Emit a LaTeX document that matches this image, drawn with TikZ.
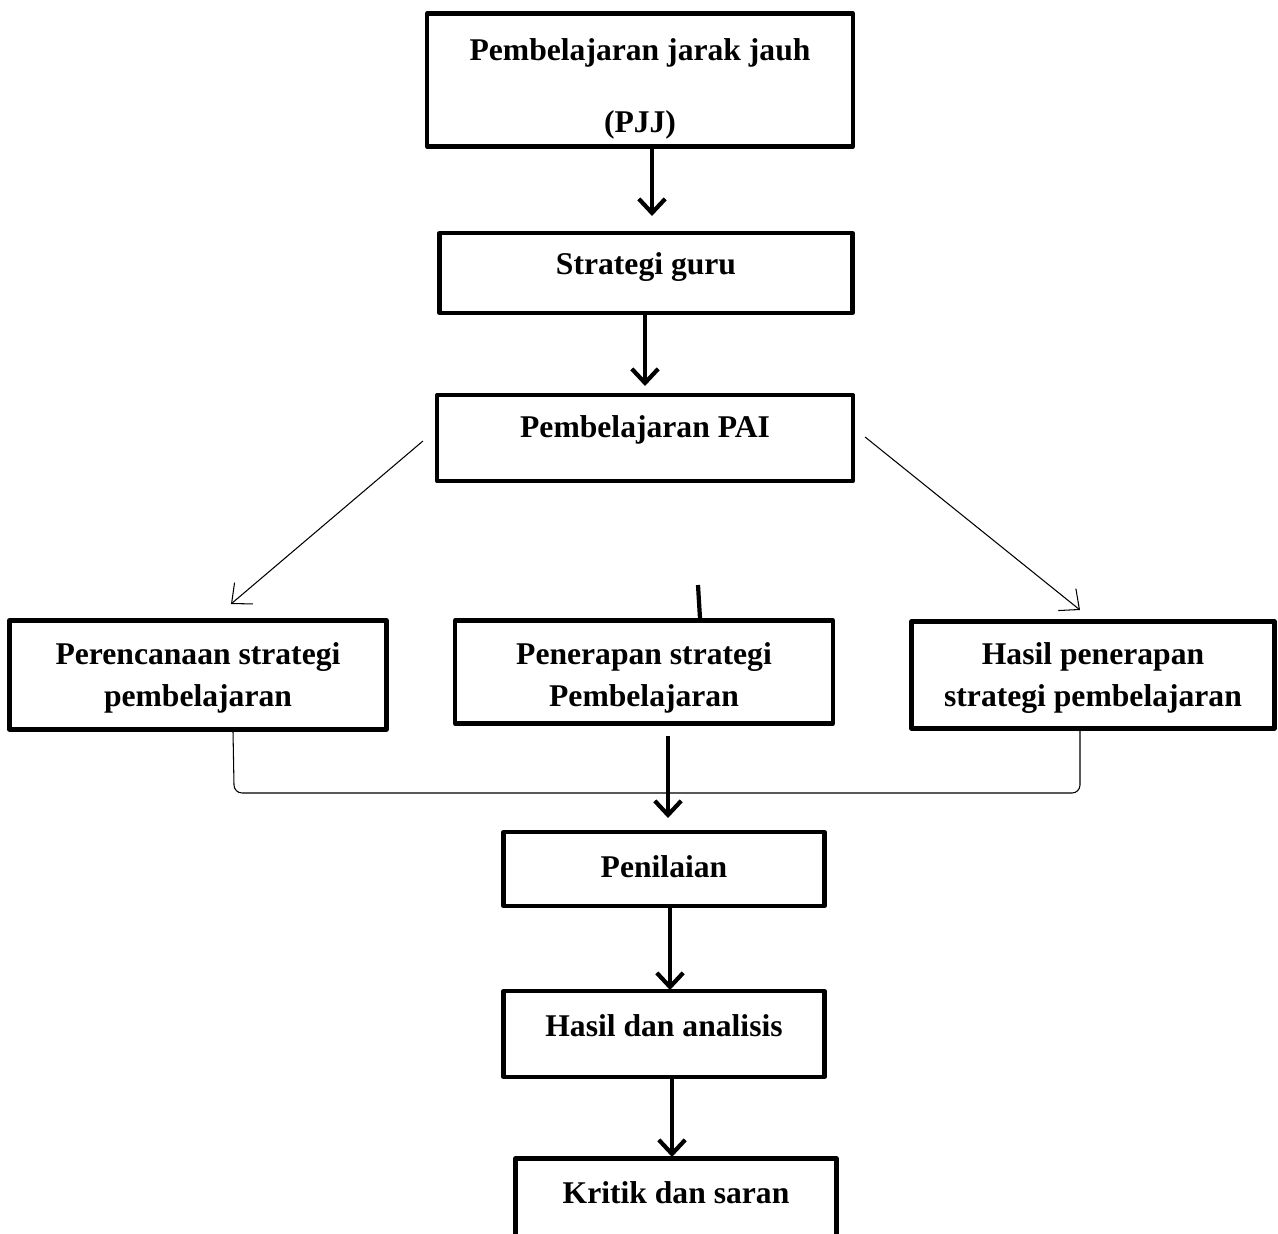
\documentclass[tikz,border=0pt]{standalone}
\usepackage{fontspec}
\setmainfont{Liberation Serif}
\usetikzlibrary{arrows.meta}

\begin{document}
\begin{tikzpicture}[x=0.02cm, y=-0.02cm, font=\bfseries\fontsize{18}{24}\selectfont, line join=round, >={Straight Barb[length=8pt,width=15pt]}]
			\tikzset{kotak/.style={draw, line width=2.4pt, inner sep=0pt},
				tebal/.style={->, line width=2.4pt},
				tipis/.style={->, line width=0.6pt, >={Straight Barb[length=9pt,width=16pt]}}}
			\clip (0,0) rectangle (1278,1234);
			\node[kotak, minimum width=8.52cm, text height=2.38cm, text depth=0.28cm] (pjj) at (640,80) {\begin{tabular}[b]{@{}c@{}}Pembelajaran jarak jauh\\[17pt](PJJ)\end{tabular}};
			\node[kotak, minimum width=8.26cm, text height=0.82cm, text depth=0.78cm] (guru) at (646,273) {Strategi guru};
			\node[kotak, minimum width=8.32cm, text height=0.84cm, text depth=0.88cm] (pai) at (645,438) {Pembelajaran PAI};
			\node[kotak, minimum width=7.54cm, text height=1.72cm, text depth=0.46cm] (rencana) at (198,675) {\begin{tabular}[b]{@{}c@{}}Perencanaan strategi\\pembelajaran\end{tabular}};
			\node[kotak, minimum width=7.56cm, text height=1.72cm, text depth=0.34cm] (terap) at (644,672) {\begin{tabular}[b]{@{}c@{}}Penerapan strategi\\Pembelajaran\end{tabular}};
			\node[kotak, minimum width=7.26cm, text height=1.7cm, text depth=0.44cm] (hasil) at (1093,675) {\begin{tabular}[b]{@{}c@{}}Hasil penerapan\\strategi pembelajaran\end{tabular}};
			\node[kotak, minimum width=6.42cm, text height=0.9cm, text depth=0.58cm] (nilai) at (664,869) {Penilaian};
			\node[kotak, minimum width=6.42cm, text height=0.9cm, text depth=0.82cm] (analisis) at (664,1034) {Hasil dan analisis};
			\node[kotak, minimum width=6.42cm, text height=0.9cm, text depth=0.92cm] (kritik) at (676,1204) {Kritik dan saran};
			% panah utama
			\draw[tebal] (pjj.south -| 652,0)--(652,216) coordinate (u1);
			\draw[tebal] (guru.south -| 645,0)--(645,386) coordinate (u2);
			\draw[tebal] (terap.south -| 668,0) ++(0,10)--(668,818) coordinate (u3);
			\draw[tebal] (nilai.south -| 670,0)--(670,990) coordinate (u4);
			\draw[tebal] (analisis.south -| 672,0)--(672,1157) coordinate (u5);
			\draw[line width=2.4pt] (698,585) coordinate (s1)--(terap.north -| 700,0);
			% panah cabang
			\draw[tipis] (pai.west) ++(-12,3) coordinate (a1)--(231,604) coordinate (b1);
			\draw[tipis] (pai.east) ++(10,-1) coordinate (a2)--(1080,610) coordinate (b2);
			% kurung gabungan
			\draw[line width=0.6pt] (rencana.south -| 233,0)--(234,785) to[out=-90,in=180] (242,793)--(1072,793) to[out=0,in=-90] (1080,785)--(hasil.south -| 1080,0);
		\end{tikzpicture}
\end{document}
